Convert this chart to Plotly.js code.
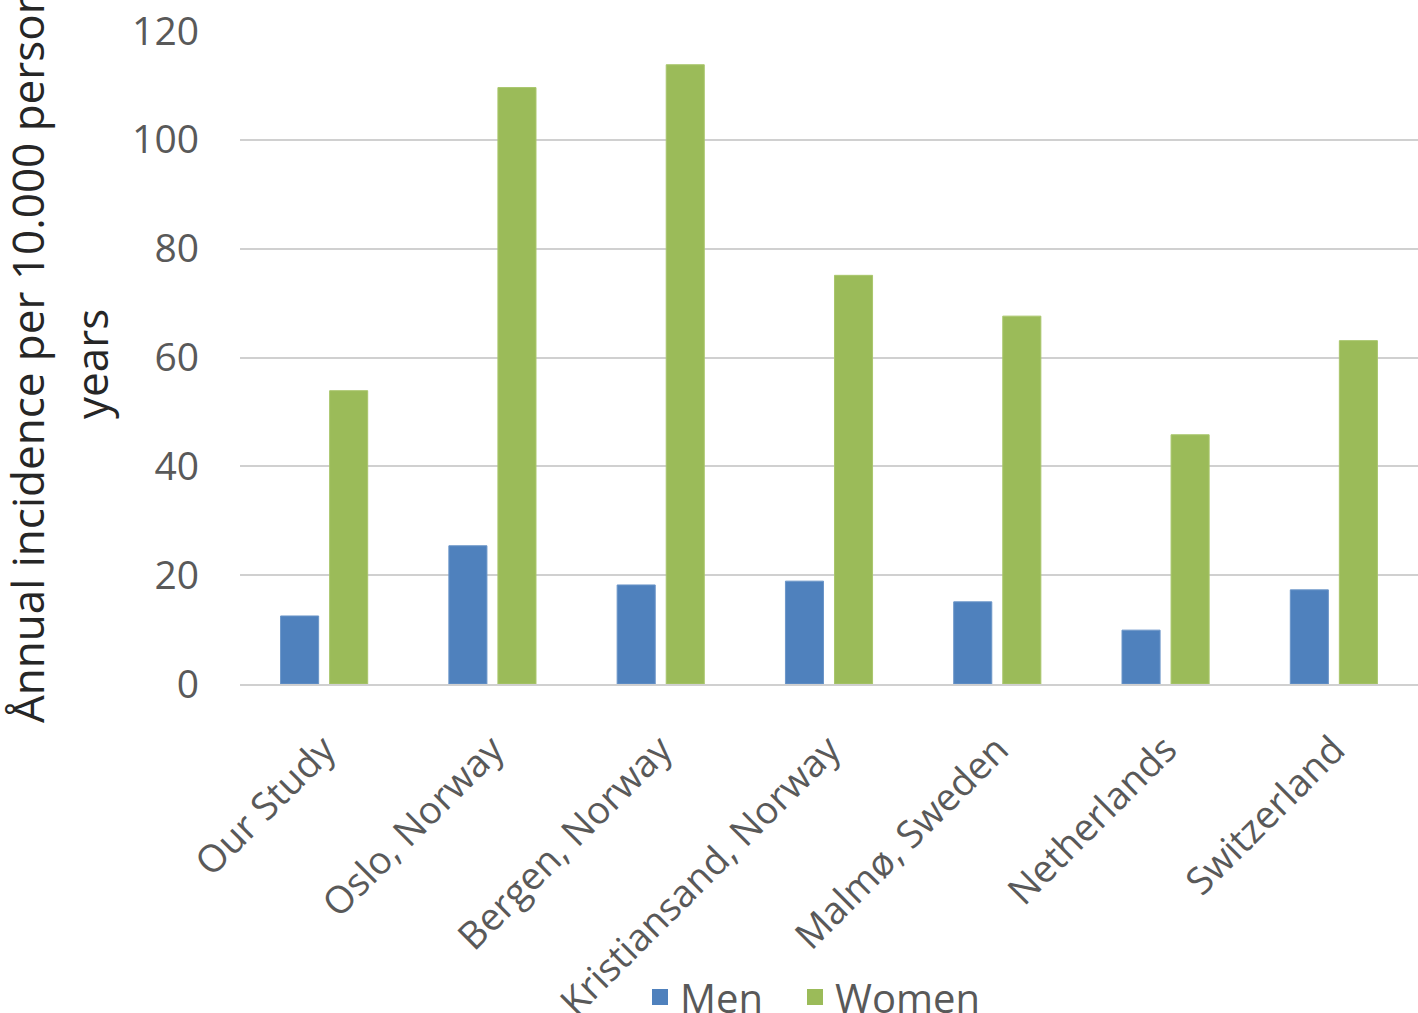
<!DOCTYPE html>
<html>
<head>
<meta charset="utf-8">
<script src="https://cdn.plot.ly/plotly-3.0.1.min.js"></script>
<style>html,body{margin:0;padding:0;background:#fff;}#chart{width:1418px;height:1013px;}</style>
</head>
<body>
<div id="chart"></div>
<script>
const categories = ["Our Study", "Oslo, Norway", "Bergen, Norway", "Kristiansand, Norway", "Malmø, Sweden", "Netherlands", "Switzerland"];
const menValues = [12.5, 25.4, 18.2, 18.9, 15.1, 9.9, 17.3];
const womenValues = [53.9, 109.6, 113.8, 75.1, 67.6, 45.8, 63.1];
const yTickValues = [0, 20, 40, 60, 80, 100, 120];
const yTitleLine1 = "Ånnual incidence per 10.000 person";
const yTitleLine2 = "years";
const seriesNames = ["Men", "Women"];
const seriesColors = ["#4F81BD", "#9BBB59"];

const FONT = "Open Sans, Lato, sans-serif";
const traces = [
  {type: "bar", name: seriesNames[0], x: categories, y: menValues, showlegend: false,
   marker: {color: seriesColors[0], line: {color: "#6b95c8", width: 1}}},
  {type: "bar", name: seriesNames[1], x: categories, y: womenValues, showlegend: false,
   marker: {color: seriesColors[1], line: {color: "#a9c66c", width: 1}}},
  // legend-only entries (larger square symbols)
  {type: "scatter", mode: "markers", name: seriesNames[0], x: [categories[0]], y: [null], hoverinfo: "skip",
   legend: "legend", marker: {symbol: "square", size: 16, color: seriesColors[0]}},
  {type: "scatter", mode: "markers", name: seriesNames[1], x: [categories[0]], y: [null], hoverinfo: "skip",
   legend: "legend2", marker: {symbol: "square", size: 16, color: seriesColors[1]}}
];
const legendFont = {size: 40, color: "#595959", family: FONT};
const layout = {
  width: 1418, height: 1013,
  margin: {l: 240, r: 0, t: 31, b: 329, autoexpand: false},
  paper_bgcolor: "#fff", plot_bgcolor: "#fff",
  bargap: 0.417, bargroupgap: 0.224, barmode: "group",
  font: {family: FONT, color: "#595959"},
  showlegend: true,
  legend: {orientation: "h", x: (640 - 240) / 1178, xanchor: "left", y: (684 - 997) / 653, yanchor: "middle",
           font: legendFont, itemwidth: 30, bgcolor: "rgba(0,0,0,0)"},
  legend2: {orientation: "h", x: (795 - 240) / 1178, xanchor: "left", y: (684 - 997) / 653, yanchor: "middle",
           font: legendFont, itemwidth: 30, bgcolor: "rgba(0,0,0,0)"},
  xaxis: {type: "category", tickangle: -45, tickfont: {size: 38, color: "#595959", family: FONT},
          showgrid: false, showline: true, linecolor: "#d0d0d0", linewidth: 2, ticks: "",
          ticklabelstandoff: 26, automargin: false, fixedrange: true},
  yaxis: {range: [0, 120], tickvals: yTickValues, ticktext: yTickValues.map(String),
          tickfont: {size: 39, color: "#595959", family: FONT},
          showgrid: true, gridcolor: "#d0d0d0", gridwidth: 2, zeroline: false, showline: false,
          ticks: "", ticklabelstandoff: 40, automargin: false, fixedrange: true},
  annotations: [
    {text: yTitleLine1, xref: "paper", yref: "paper", x: (27 - 240) / 1178, y: (684 - 355) / 653,
     xanchor: "center", yanchor: "middle", textangle: -90, showarrow: false,
     font: {size: 44, color: "#262626", family: FONT}},
    {text: yTitleLine2, xref: "paper", yref: "paper", x: (91 - 240) / 1178, y: (684 - 364) / 653,
     xanchor: "center", yanchor: "middle", textangle: -90, showarrow: false,
     font: {size: 44, color: "#262626", family: FONT}}
  ]
};
Plotly.newPlot("chart", traces, layout, {displayModeBar: false, staticPlot: true});
</script>
</body>
</html>
